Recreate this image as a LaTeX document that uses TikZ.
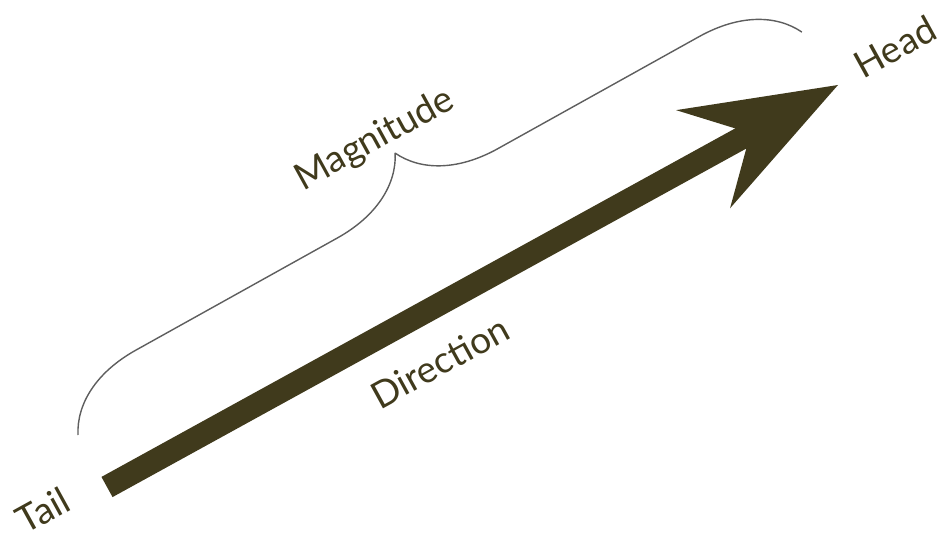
\documentclass[tikz,border=0pt]{standalone}
\usepackage{fontspec}
\setmainfont{Lato}
\usetikzlibrary{calc, decorations.pathreplacing}
\definecolor{olive}{HTML}{403A1C}
\definecolor{bracegray}{HTML}{5E5E5E}

\begin{document}
\begin{tikzpicture}[x=1pt, y=1pt, line join=round,
    lbl/.style={text=olive, rotate=28.8, inner sep=0pt, font=\fontsize{37}{40}\selectfont},
    bracestyle/.style={draw=bracegray, line width=1.4pt, decorate, decoration={brace, amplitude=92pt}}]
  \useasboundingbox (0,0) rectangle (946,539);
  \coordinate (tailend) at (107,52);
  \coordinate (tip) at (838,454);
  \coordinate (bl) at (78,104);
  \coordinate (br) at (802,507);
  \draw[olive, line width=23pt] (tailend) -- ($(tip)!60pt!(tailend)$);
  \begin{scope}[shift={(tip)}, rotate=28.81]
    \fill[olive] (0,0) -- (-154,56) -- (-111,11.5) -- (-111,-11.5) -- (-154,-56) -- cycle;
  \end{scope}
  \path[bracestyle] (bl) -- (br);
  \node[lbl] (taillbl) at (43,29) {Tail};
  \node[lbl] (headlbl) at (895,492) {Head};
  \node[lbl] (maglbl) at (375,399) {Magnitude};
  \node[lbl] (dirlbl) at (440,177) {Direction};
\end{tikzpicture}
\end{document}
